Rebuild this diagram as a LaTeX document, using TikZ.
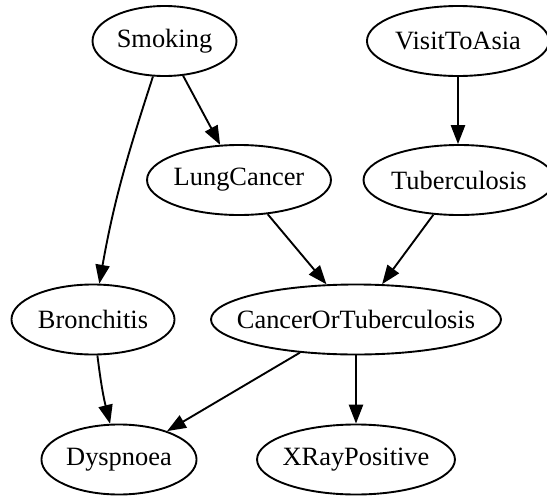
\documentclass[tikz,border=0pt]{standalone}
\usepackage{fontspec}
\setmainfont{Liberation Serif}
\usepackage{xcolor}
\usetikzlibrary{shapes.geometric,arrows.meta}

\begin{document}
\begin{tikzpicture}[
    x=0.53pt, y=-0.53pt,
    bnode/.style={ellipse, draw, line width=1pt, inner xsep=-40pt, inner ysep=-20pt, minimum height=37.1pt, font=\fontsize{14}{16}\selectfont},
    link/.style={-{Triangle[length=10pt,width=7.5pt]}, line width=1pt}
]
\useasboundingbox (0,0) rectangle (547,496);
\node[bnode, minimum width=76.3pt] (smoking) at (164.5,41) {Smoking};
\node[bnode, minimum width=96.5pt] (visit) at (458,41) {VisitToAsia};
\node[bnode, minimum width=97.5pt] (lung) at (239,180) {LungCancer};
\node[bnode, minimum width=101.2pt] (tuber) at (459,180) {Tuberculosis};
\node[bnode, minimum width=86.4pt] (bron) at (93,319.5) {Bronchitis};
\node[bnode, minimum width=153.7pt] (cot) at (356,319.5) {CancerOrTuberculosis};
\node[bnode, minimum width=82.2pt] (dysp) at (119,459.5) {Dyspnoea};
\node[bnode, minimum width=104.9pt] (xray) at (356,459.5) {XRayPositive};

\draw[link] (smoking) -- (lung);
\draw[link] (smoking) to[out=-108, in=80] (bron);
\draw[link] (visit) -- (visit |- tuber.north);
\draw[link] (lung) -- (cot);
\draw[link] (tuber) -- (cot);
\draw[link] (bron) to[out=-83, in=104] (dysp);
\draw[link] (cot) -- (dysp);
\draw[link] (cot) -- (xray);
\end{tikzpicture}
\end{document}
